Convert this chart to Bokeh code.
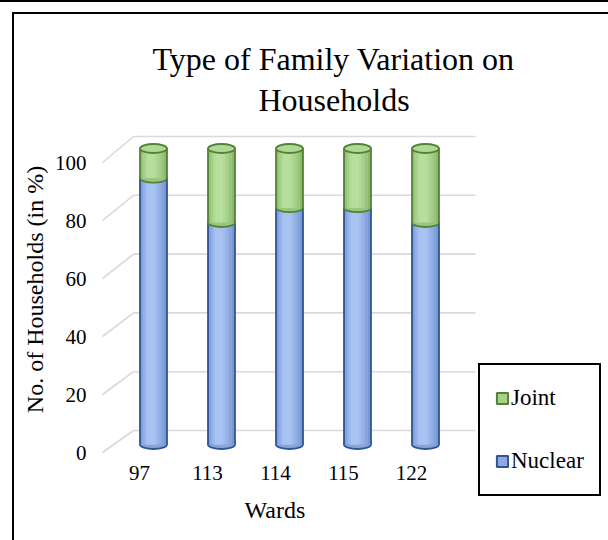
from bokeh.plotting import figure
from bokeh.models import (Range1d, LinearAxis, FixedTicker, Legend, LegendItem,
                          Title, ColumnDataSource)
from bokeh.transform import dodge
from bokeh.embed import file_html
from bokeh.resources import INLINE

# ---------------- data ----------------
wards = ["97", "113", "114", "115", "122"]
nuclear = [90, 75, 80, 80, 75]
joint = [10, 25, 20, 20, 25]
y_ticks = [0, 20, 40, 60, 80, 100]

FONT = "Liberation Serif"

# ---------------- pseudo-3D layout (pixels) ----------------
FRAME_L, FRAME_R, FRAME_T, FRAME_B = 100, 475, 120, 458
SLOT = 68            # spacing between wards
CYL_X0 = 153         # centre of the first cylinder
LABEL_X0 = 139       # centre of the first ward label (front plane)
CYL_W = 27           # cylinder diameter
CAP_H = 9            # height of the elliptical caps
# (pixel of value 0, pixels per unit) for each depth plane
CYL_PLANE = (444, 2.96)
FRONT_PLANE = (452, 2.90)
BACK_PLANE = (430, 2.94)
WALL_FRONT_X, WALL_BACK_X, WALL_RIGHT_X = 102, 133, 476


def px_range(zero_px, k, lo_px, hi_px):
    """Data range whose values map onto the pixel span lo_px..hi_px."""
    return Range1d(start=(zero_px - lo_px) / k, end=(zero_px - hi_px) / k)


def plane_to_main(v, plane):
    px = plane[0] - plane[1] * v
    return (CYL_PLANE[0] - px) / CYL_PLANE[1]


def xpx_to_main(px):
    return (px - CYL_X0) / SLOT


p = figure(frame_width=FRAME_R - FRAME_L, frame_height=FRAME_B - FRAME_T,
           min_border_left=FRAME_L, min_border_right=608 - FRAME_R,
           min_border_top=FRAME_T, min_border_bottom=540 - FRAME_B,
           x_range=Range1d(xpx_to_main(FRAME_L), xpx_to_main(FRAME_R)),
           y_range=px_range(CYL_PLANE[0], CYL_PLANE[1], FRAME_B, FRAME_T),
           x_axis_location=None, y_axis_location=None, title_location=None,
           output_backend="svg", toolbar_location=None,
           background_fill_color="white", border_fill_alpha=0.0)
p.outline_line_color = None
p.grid.visible = False
# page frame: thin rule along the top edge, box lines inset at left/top
p.styles = {
    "background-color": "white",
    "box-shadow": ("inset 0 2px 0 0 black, inset 12px 12px 0 0 white, "
                   "inset 14px 14px 0 0 black"),
}

p.extra_y_ranges = {"front": px_range(FRONT_PLANE[0], FRONT_PLANE[1], FRAME_B, FRAME_T)}
p.extra_x_ranges = {"front": Range1d((FRAME_L - LABEL_X0) / SLOT, (FRAME_R - LABEL_X0) / SLOT)}

# ---------------- title (two lines, centred on the plotting area) ----------------
title_style = dict(text_font=FONT, text_font_size="32px",
                   text_font_style="normal", text_color="black", align="left")
p.add_layout(Title(text="Households", offset=158, standoff=6, **title_style), "above")
p.add_layout(Title(text="Type of Family Variation on", offset=52, standoff=0,
                   **title_style), "above")

# ---------------- axes ----------------
yaxis = LinearAxis(y_range_name="front", ticker=FixedTicker(ticks=y_ticks),
                   axis_label="No. of Households (in %)")
yaxis.axis_line_color = None
yaxis.major_tick_line_color = None
yaxis.minor_tick_line_color = None
yaxis.major_tick_out = 0
yaxis.major_label_standoff = 14
yaxis.major_label_text_font = FONT
yaxis.major_label_text_font_size = "21px"
yaxis.major_label_text_color = "black"
yaxis.axis_label_standoff = 4
yaxis.axis_label_text_font = FONT
yaxis.axis_label_text_font_size = "24px"
yaxis.axis_label_text_font_style = "normal"
yaxis.axis_label_text_color = "black"
p.add_layout(yaxis, "left")

idx = list(range(len(wards)))
xaxis = LinearAxis(x_range_name="front", ticker=FixedTicker(ticks=idx),
                   major_label_overrides={i: w for i, w in enumerate(wards)})
xaxis.axis_line_color = None
xaxis.major_tick_line_color = None
xaxis.minor_tick_line_color = None
xaxis.major_tick_out = 0
xaxis.major_label_standoff = 7
xaxis.major_label_text_font = FONT
xaxis.major_label_text_font_size = "21px"
xaxis.major_label_text_color = "black"
p.add_layout(xaxis, "below")

p.add_layout(Title(text="Wards", align="left", offset=144, standoff=24,
                   text_font=FONT, text_font_size="24px", text_font_style="normal",
                   text_color="black"), "below")

# ---------------- back wall gridlines ----------------
grid = ColumnDataSource(dict(
    fx=[xpx_to_main(WALL_FRONT_X)] * len(y_ticks),
    bx=[xpx_to_main(WALL_BACK_X)] * len(y_ticks),
    rx=[xpx_to_main(WALL_RIGHT_X)] * len(y_ticks),
    fy=[plane_to_main(v, FRONT_PLANE) for v in y_ticks],
    by=[plane_to_main(v, BACK_PLANE) for v in y_ticks],
))
p.segment(x0="fx", y0="fy", x1="bx", y1="by", source=grid,
          line_color="#d9d9d9", line_width=1.6)
p.segment(x0="bx", y0="by", x1="rx", y1="by", source=grid,
          line_color="#d9d9d9", line_width=1.6)

# ---------------- cylinders ----------------
src = ColumnDataSource(dict(
    x=idx, zero=[0] * len(idx), nuclear=nuclear,
    total=[n + j for n, j in zip(nuclear, joint)],
))
w = CYL_W / SLOT
cap = CAP_H / CYL_PLANE[1]

nuc_shades = ["#7a97d0", "#87a4dc", "#94b1e6", "#9fbbed", "#a8c3f1"]
nuc_line = "#2f5597"
jnt_shades = ["#8db770", "#9ac57e", "#a6d08a", "#afd894", "#b7de9d"]
jnt_line = "#548235"
fracs = [1.0, 0.84, 0.66, 0.48, 0.3]
shifts = [0.0, -0.012, -0.022, -0.03, -0.036]


def cylinder_part(bottom, top, shades, line, cap_fill):
    # bottom cap (only its lower half stays visible)
    p.ellipse(x="x", y=bottom, width=w, height=cap, source=src,
              fill_color=cap_fill, line_color=line, line_width=1.8)
    # shaded body
    for f, s, c in zip(fracs, shifts, shades):
        p.vbar(x=dodge("x", s * w / 0.4, range=p.x_range), width=w * f,
               bottom=bottom, top=top, source=src,
               fill_color=c, line_color=None)
    # side edges
    for side in (-w / 2, w / 2):
        p.segment(x0=dodge("x", side, range=p.x_range), y0=bottom,
                  x1=dodge("x", side, range=p.x_range), y1=top,
                  source=src, line_color=line, line_width=1.8)


cylinder_part("zero", "nuclear", nuc_shades, nuc_line, nuc_shades[1])
cylinder_part("nuclear", "total", jnt_shades, jnt_line, jnt_shades[1])
# top cap
p.ellipse(x="x", y="total", width=w, height=cap, source=src,
          fill_color="#b0d897", line_color=jnt_line, line_width=1.8)

# ---------------- legend (hidden flat copies of each series give the swatches) ----------------
leg_j = p.vbar(x="x", bottom="nuclear", top="total", width=w, source=src,
               fill_color="#a9d18e", line_color=jnt_line, line_width=2, visible=False)
leg_n = p.vbar(x="x", bottom="zero", top="nuclear", width=w, source=src,
               fill_color="#8faadc", line_color=nuc_line, line_width=2, visible=False)
legend = Legend(items=[LegendItem(label="Joint", renderers=[leg_j]),
                       LegendItem(label="Nuclear", renderers=[leg_n])],
                location=(3, -38), margin=0, padding=15, spacing=27,
                label_height=36, glyph_height=14, glyph_width=14,
                label_standoff=2, label_text_font=FONT,
                label_text_font_size="23px", label_text_color="black",
                label_text_baseline="middle", click_policy="none",
                border_line_color="black", border_line_width=2, border_line_alpha=1.0,
                background_fill_color="white", background_fill_alpha=1.0)
p.add_layout(legend, "right")

open("out.html", "w").write(file_html(p, INLINE))
